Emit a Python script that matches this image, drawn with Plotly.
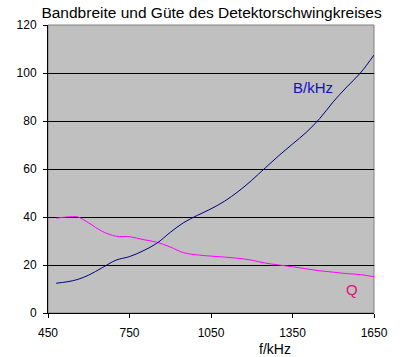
import plotly.graph_objects as go

freq = [480, 520, 560, 600, 650, 700, 750, 800, 850, 900, 950, 1000, 1050,
        1100, 1150, 1200, 1250, 1300, 1350, 1400, 1450, 1500, 1550, 1600, 1650]
bandwidth = [12.4, 13.0, 14.0, 15.8, 18.9, 22.0, 23.5, 25.9, 29.0, 33.6, 37.7, 40.7, 43.4,
             46.6, 50.6, 55.3, 60.5, 65.6, 70.4, 75.2, 81.0, 88.0, 94.2, 100.0, 107.5]
quality = [39.5, 40.0, 40.0, 37.5, 34.0, 32.0, 31.8, 30.6, 29.5, 27.5, 25.1, 24.2, 23.7,
           23.3, 22.8, 22.0, 20.8, 20.0, 19.3, 18.4, 17.6, 17.0, 16.4, 16.0, 15.1]
x_ticks = [450, 750, 1050, 1350, 1650]
y_ticks = [0, 20, 40, 60, 80, 100, 120]

font = "Liberation Sans, Arial, sans-serif"

fig = go.Figure()
fig.add_trace(go.Scatter(x=freq, y=quality, mode="lines", name="Q",
                         line=dict(color="#FF00FF", width=1), line_shape="spline"))
fig.add_trace(go.Scatter(x=freq, y=bandwidth, mode="lines", name="B/kHz",
                         line=dict(color="#000080", width=1), line_shape="spline"))

fig.add_shape(type="rect", xref="paper", yref="paper", x0=0, x1=1, y0=0, y1=1,
              line=dict(color="#808080", width=1), layer="below")

fig.add_annotation(x=1425, y=94, text="B/kHz", showarrow=False,
                   font=dict(family=font, size=15, color="#1010C0"))
fig.add_annotation(x=1569, y=10, text="Q", showarrow=False,
                   font=dict(family=font, size=15, color="#E0107A"))
fig.add_annotation(x=1286, y=-0.124, xref="x", yref="paper", text="f/kHz",
                   showarrow=False, yanchor="middle",
                   font=dict(family=font, size=14, color="black"))

fig.update_layout(
    width=403, height=357,
    margin=dict(l=48, r=29, t=25, b=44),
    paper_bgcolor="white", plot_bgcolor="#C0C0C0",
    showlegend=False,
    title=dict(text="Bandbreite und Güte des Detektorschwingkreises",
               x=0.525, xanchor="center", y=0.966, yanchor="middle",
               font=dict(family=font, size=15.5, color="black")),
    font=dict(family=font, size=12, color="black"),
)
fig.update_xaxes(range=[450, 1650], tickvals=x_ticks, ticks="outside", ticklen=4,
                 tickcolor="black", showline=True, linecolor="black", linewidth=1,
                 showgrid=False, zeroline=False, ticklabelstandoff=5,
                 tickfont=dict(family=font, size=12, color="black"))
fig.update_yaxes(range=[0, 120], tickvals=y_ticks, ticks="outside", ticklen=4,
                 tickcolor="black", showline=True, linecolor="black", linewidth=1,
                 showgrid=True, gridcolor="black", gridwidth=1, zeroline=False,
                 ticklabelstandoff=4,
                 tickfont=dict(family=font, size=12, color="black"))

fig.write_html("out.html", config={"displayModeBar": False},
               post_script="document.body.style.margin='0';document.body.style.overflow='hidden';")
